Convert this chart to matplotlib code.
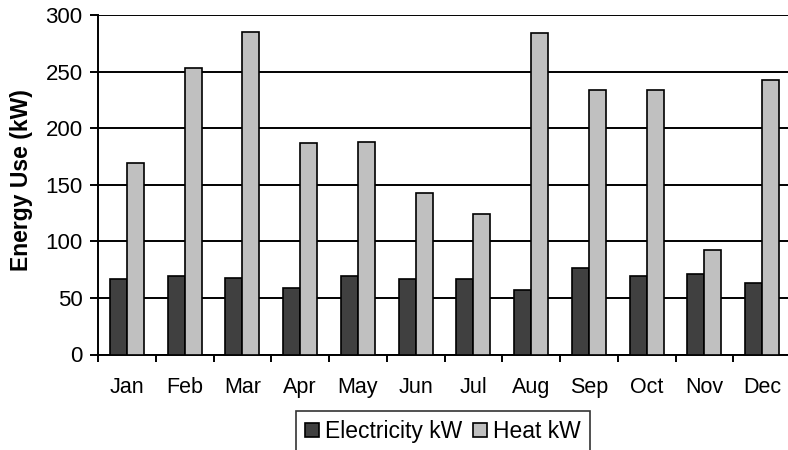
import numpy as np
import matplotlib
matplotlib.use("Agg")
import matplotlib.pyplot as plt

plt.rcParams['font.family'] = ['Liberation Sans', 'DejaVu Sans']

# monthly values
months = ['Jan', 'Feb', 'Mar', 'Apr', 'May', 'Jun',
          'Jul', 'Aug', 'Sep', 'Oct', 'Nov', 'Dec']
electricity = [67, 69, 68, 59, 69, 67, 67, 57, 76, 69, 71, 63]
heat = [169, 253, 285, 187, 188, 143, 124, 284, 234, 234, 92, 243]

fig = plt.figure(figsize=(7.88, 4.5), dpi=100)
ax = fig.add_axes([98 / 788, 1 - 354.5 / 450, 693 / 788, 339.5 / 450])

x = np.arange(len(months))
w = 0.295
ax.bar(x - w / 2, electricity, w, color='#404040', edgecolor='black',
       linewidth=1.2, label='Electricity kW', zorder=3)
ax.bar(x + w / 2, heat, w, color='#c0c0c0', edgecolor='black',
       linewidth=1.2, label='Heat kW', zorder=3)

ax.set_xlim(-0.5, 11.5)
ax.set_ylim(0, 300)
ax.set_yticks(range(0, 301, 50))
ax.yaxis.grid(True, color='black', linewidth=1.4, zorder=0)
ax.set_axisbelow(True)

ax.set_xticks(x)
ax.set_xticklabels(months, fontsize=15.5)
ax.set_xticks(np.arange(-0.5, 12, 1), minor=True)
ax.tick_params(axis='x', which='major', length=0, pad=16)
ax.tick_params(axis='x', which='minor', length=5, width=1.4, direction='out')
ax.tick_params(axis='y', labelsize=16, length=6, width=1.4, pad=5)

for s in ['top', 'right']:
    ax.spines[s].set_visible(False)
for s in ['left', 'bottom']:
    ax.spines[s].set_linewidth(1.4)

ax.set_ylabel('Energy Use (kW)', fontsize=16.5, fontweight='bold')
ax.yaxis.set_label_coords(-0.094, 0.515)

leg = fig.legend(loc='upper center', bbox_to_anchor=(443 / 788, 1 - 411 / 450),
                 ncol=2, fontsize=16.5, frameon=True, fancybox=False,
                 edgecolor='black', handlelength=0.6, handleheight=0.6,
                 handletextpad=0.25, columnspacing=0.5, borderpad=0.4,
                 borderaxespad=0)
leg.get_frame().set_linewidth(1.2)

fig.savefig('out.png', dpi=100)
